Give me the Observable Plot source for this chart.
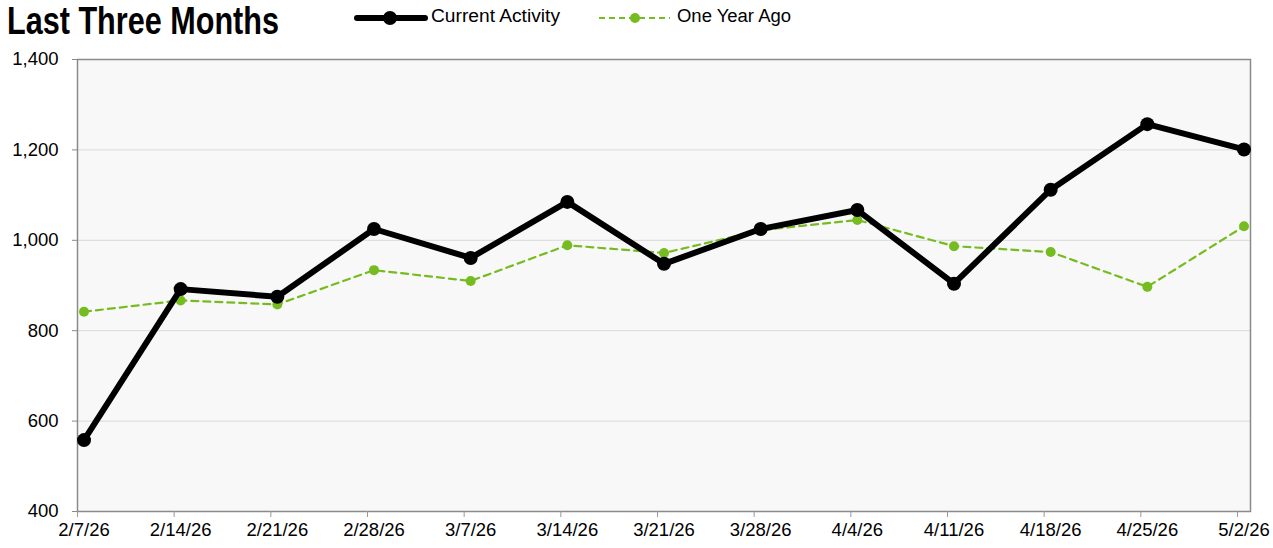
<!DOCTYPE html>
<html>
<head>
<meta charset="utf-8">
<script src="https://cdn.jsdelivr.net/npm/d3@7"></script>
<script src="https://cdn.jsdelivr.net/npm/@observablehq/plot@0.6"></script>
<style>
  html, body { margin: 0; padding: 0; background: #fff; }
  body { width: 1273px; height: 548px; overflow: hidden; font-family: "Liberation Sans", Arial, sans-serif; }
  #header { position: relative; height: 48px; }
  #title { position: absolute; left: 7px; top: 1px; font-family: "Liberation Sans", Arial, sans-serif; font-weight: bold; font-size: 39px; line-height: 1; color: #000; transform-origin: 0 0; white-space: nowrap; }
  .leg { position: absolute; top: 6px; font-family: "Liberation Sans", Arial, sans-serif; font-size: 18px; color: #000; }
  .leg svg { position: absolute; left: 0; top: 1px; }
</style>
</head>
<body>
<div id="header">
  <div id="title">Last Three Months</div>
  <div class="leg" style="left:353px;">
    <svg width="76" height="22"><line x1="4" y1="11" x2="72" y2="11" stroke="#000" stroke-width="6" stroke-linecap="round"/><circle cx="37" cy="11" r="7" fill="#000"/></svg>
    <span id="l1" style="position:absolute;left:78px;top:0;white-space:nowrap;">Current Activity</span>
  </div>
  <div class="leg" style="left:598px;">
    <svg width="76" height="22"><line x1="1" y1="11" x2="72" y2="11" stroke="#76bc21" stroke-width="2.2" stroke-dasharray="6,4"/><circle cx="37" cy="11" r="5" fill="#76bc21"/></svg>
    <span id="l2" style="position:absolute;left:79px;top:0;white-space:nowrap;">One Year Ago</span>
  </div>
</div>
<div id="chart"></div>
<script>
const dates = ["2/7/26","2/14/26","2/21/26","2/28/26","3/7/26","3/14/26","3/21/26","3/28/26","4/4/26","4/11/26","4/18/26","4/25/26","5/2/26"];
const currentActivity = [558, 892, 875, 1025, 961, 1085, 948, 1025, 1067, 904, 1112, 1257, 1201];
const oneYearAgo = [842, 867, 858, 934, 910, 989, 972, 1022, 1045, 987, 974, 897, 1031];
const yTicks = [400, 600, 800, 1000, 1200, 1400];

const cur = dates.map((d, i) => ({date: d, value: currentActivity[i]}));
const ago = dates.map((d, i) => ({date: d, value: oneYearAgo[i]}));

// fit the condensed-looking title and legend texts to the reference widths
const title = document.getElementById("title");
title.style.transform = `scaleX(${272 / title.getBoundingClientRect().width})`;
for (const [id, w] of [["l1", 129], ["l2", 114]]) {
  const el = document.getElementById(id);
  el.style.display = "inline-block";
  el.style.transformOrigin = "0 0";
  el.style.transform = `scaleX(${w / el.getBoundingClientRect().width})`;
}

const chart = Plot.plot({
  width: 1273,
  height: 500,
  marginTop: 11,
  marginBottom: 37,
  marginLeft: 77,
  marginRight: 23,
  style: {fontFamily: "'Liberation Sans', Arial, sans-serif", fontSize: "18px", color: "#000", background: "#fff"},
  x: {type: "point", domain: dates, range: [83.5, 1243.5], padding: 0, round: false, label: null},
  y: {domain: [400, 1400], label: null},
  marks: [
    Plot.frame({fill: "#f8f8f8", stroke: "none"}),
    Plot.gridY(yTicks.slice(1, -1), {stroke: "#d9d9d9", strokeOpacity: 1, strokeWidth: 1}),
    Plot.frame({stroke: "#8a8a8a", strokeWidth: 1.5}),
    Plot.axisY(yTicks, {tickSize: 5, tickPadding: 14, tickFormat: d3.format(","), stroke: "#8a8a8a", fontSize: 18.5, label: null}),
    Plot.axisX(dates, {tickSize: 6, tickFormat: () => "", dx: -6.5, stroke: "#999", strokeOpacity: 1, label: null}),
    Plot.axisX(dates, {tickSize: 0, tickPadding: 11, fontSize: 18.5, label: null}),
    Plot.line(ago, {x: "date", y: "value", stroke: "#76bc21", strokeWidth: 2.2, strokeDasharray: "7,5"}),
    Plot.dot(ago, {x: "date", y: "value", fill: "#76bc21", r: 5}),
    Plot.line(cur, {x: "date", y: "value", stroke: "#000", strokeWidth: 6}),
    Plot.dot(cur, {x: "date", y: "value", fill: "#000", r: 7})
  ]
});
document.getElementById("chart").appendChild(chart);
</script>
</body>
</html>
